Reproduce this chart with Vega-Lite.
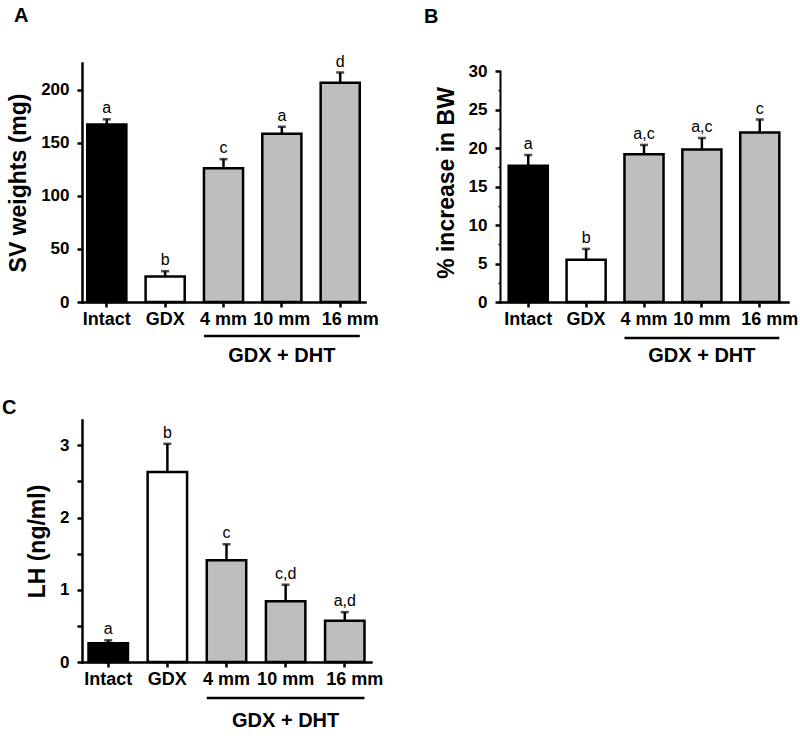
{
  "$schema": "https://vega.github.io/schema/vega-lite/v6.json",
  "background": "white",
  "padding": {"left": 2, "top": 5, "right": 5, "bottom": 5},
  "config": {
    "font": "Liberation Sans",
    "view": {"stroke": null},
    "axis": {
      "domainColor": "black", "domainWidth": 2.5, "tickColor": "black", "tickWidth": 2.5, "tickSize": 5,
      "labelFont": "Liberation Sans", "labelFontWeight": "bold", "labelColor": "black", "labelOverlap": false,
      "titleFont": "Liberation Sans", "titleFontWeight": "bold", "titleColor": "black", "titleFontSize": 23,
      "grid": false
    },
    "axisX": {"labelFontSize": 18, "labelAngle": 0, "labelPadding": 3, "title": null, "domainCap": "square",
              "labelOffset": {"condition": {"test": "datum.value == '16 mm'", "value": 10}, "value": 0}},
    "axisY": {"labelFontSize": 17, "labelPadding": 8, "titlePadding": 10, "domainCap": "square"},
    "title": {"font": "Liberation Sans", "fontSize": 20, "fontWeight": "bold", "color": "black", "anchor": "start", "frame": "group"}
  },
  "datasets": {
    "A": [
      {"group": "Intact", "mean": 167, "upper": 172, "letter": "a"},
      {"group": "GDX", "mean": 24, "upper": 29, "letter": "b"},
      {"group": "4 mm", "mean": 126, "upper": 134.5, "letter": "c"},
      {"group": "10 mm", "mean": 158.5, "upper": 165, "letter": "a"},
      {"group": "16 mm", "mean": 206.5, "upper": 216, "letter": "d"}
    ],
    "B": [
      {"group": "Intact", "mean": 17.7, "upper": 19.1, "letter": "a"},
      {"group": "GDX", "mean": 5.5, "upper": 6.9, "letter": "b"},
      {"group": "4 mm", "mean": 19.2, "upper": 20.4, "letter": "a,c"},
      {"group": "10 mm", "mean": 19.8, "upper": 21.3, "letter": "a,c"},
      {"group": "16 mm", "mean": 22.0, "upper": 23.7, "letter": "c"}
    ],
    "C": [
      {"group": "Intact", "mean": 0.26, "upper": 0.3, "letter": "a"},
      {"group": "GDX", "mean": 2.63, "upper": 3.02, "letter": "b"},
      {"group": "4 mm", "mean": 1.41, "upper": 1.63, "letter": "c"},
      {"group": "10 mm", "mean": 0.84, "upper": 1.07, "letter": "c,d"},
      {"group": "16 mm", "mean": 0.57, "upper": 0.69, "letter": "a,d"}
    ],
    "bracket": [{"from": "4 mm", "to": "16 mm", "label": "GDX + DHT"}]
  },
  "columns": 2,
  "align": "none",
  "spacing": {"row": 31, "column": 41},
  "concat": [
    {
      "width": 283, "height": 239,
      "title": {"text": "A", "dx": -68, "offset": 28},
      "data": {"name": "A"},
      "encoding": {
        "x": {"field": "group", "type": "nominal", "sort": null,
              "scale": {"domain": ["Intact", "GDX", "4 mm", "10 mm", "16 mm"], "paddingInner": 0.33, "paddingOuter": 0.09}}
      },
      "layer": [
        {"mark": {"type": "bar", "stroke": "black", "strokeWidth": 2.5},
         "encoding": {
           "y": {"field": "mean", "type": "quantitative", "scale": {"domain": [0, 225], "nice": false},
                 "axis": {"title": "SV weights (mg)", "labelOverlap": false, "values": [0, 25, 50, 75, 100, 125, 150, 175, 200, 225],
                          "labelExpr": "datum.value % 50 == 0 ? format(datum.value, 'd') : ''"}},
           "fill": {"field": "group", "type": "nominal", "legend": null,
                    "scale": {"domain": ["Intact", "GDX", "4 mm", "10 mm", "16 mm"], "range": ["#000000", "#ffffff", "#bebebe", "#bebebe", "#bebebe"]}}
         }},
        {"mark": {"type": "rule", "strokeWidth": 2.5, "color": "black"},
         "encoding": {"y": {"field": "mean", "type": "quantitative"}, "y2": {"field": "upper"}}},
        {"mark": {"type": "tick", "thickness": 2.5, "size": 8, "color": "black"},
         "encoding": {"y": {"field": "upper", "type": "quantitative"}}},
        {"mark": {"type": "text", "fontSize": 16, "baseline": "alphabetic", "dy": -6, "color": "black"},
         "encoding": {"y": {"field": "upper", "type": "quantitative"}, "text": {"field": "letter"}}},
        {"data": {"name": "bracket"},
         "mark": {"type": "rule", "strokeWidth": 2.5, "color": "black"},
         "encoding": {"x": {"field": "from", "type": "nominal", "bandPosition": 0}, "x2": {"field": "to", "bandPosition": 1}, "y": {"datum": -32}}},
        {"data": {"name": "bracket"},
         "mark": {"type": "text", "fontSize": 20, "fontWeight": "bold", "baseline": "middle", "color": "black"},
         "encoding": {"x": {"datum": "10 mm"}, "y": {"datum": -51}, "text": {"field": "label"}}}
      ]
    },
    {
      "width": 288, "height": 239,
      "title": {"text": "B", "dx": -76, "offset": 35},
      "data": {"name": "B"},
      "encoding": {
        "x": {"field": "group", "type": "nominal", "sort": null,
              "scale": {"domain": ["Intact", "GDX", "4 mm", "10 mm", "16 mm"], "paddingInner": 0.325, "paddingOuter": 0.15}}
      },
      "layer": [
        {"mark": {"type": "bar", "stroke": "black", "strokeWidth": 2.5},
         "encoding": {
           "y": {"field": "mean", "type": "quantitative", "scale": {"domain": [0, 31.04], "nice": false},
                 "axis": {"title": "% increase in BW", "domainWidth": 2, "domainDash": [231, 40], "labelOverlap": false,
                          "values": [0, 2.5, 5, 7.5, 10, 12.5, 15, 17.5, 20, 22.5, 25, 27.5, 30],
                          "labelExpr": "datum.value % 5 == 0 ? format(datum.value, 'd') : ''",
                          "tickSize": {"condition": {"test": "datum.value % 5 == 0", "value": 5}, "value": 2},
                          "tickWidth": {"condition": {"test": "datum.value % 5 == 0", "value": 2.5}, "value": 1.5}}},
           "fill": {"field": "group", "type": "nominal", "legend": null,
                    "scale": {"domain": ["Intact", "GDX", "4 mm", "10 mm", "16 mm"], "range": ["#000000", "#ffffff", "#bebebe", "#bebebe", "#bebebe"]}}
         }},
        {"mark": {"type": "rule", "strokeWidth": 2.5, "color": "black"},
         "encoding": {"y": {"field": "mean", "type": "quantitative",
                 "axis": {"title": "% increase in BW", "domainWidth": 2, "domainDash": [231, 40], "labelOverlap": false,
                          "values": [0, 2.5, 5, 7.5, 10, 12.5, 15, 17.5, 20, 22.5, 25, 27.5, 30],
                          "labelExpr": "datum.value % 5 == 0 ? format(datum.value, 'd') : ''",
                          "tickSize": {"condition": {"test": "datum.value % 5 == 0", "value": 5}, "value": 2},
                          "tickWidth": {"condition": {"test": "datum.value % 5 == 0", "value": 2.5}, "value": 1.5}}}, "y2": {"field": "upper"}}},
        {"mark": {"type": "tick", "thickness": 2.5, "size": 8, "color": "black"},
         "encoding": {"y": {"field": "upper", "type": "quantitative",
                 "axis": {"title": "% increase in BW", "domainWidth": 2, "domainDash": [231, 40], "labelOverlap": false,
                          "values": [0, 2.5, 5, 7.5, 10, 12.5, 15, 17.5, 20, 22.5, 25, 27.5, 30],
                          "labelExpr": "datum.value % 5 == 0 ? format(datum.value, 'd') : ''",
                          "tickSize": {"condition": {"test": "datum.value % 5 == 0", "value": 5}, "value": 2},
                          "tickWidth": {"condition": {"test": "datum.value % 5 == 0", "value": 2.5}, "value": 1.5}}}}},
        {"mark": {"type": "text", "fontSize": 16, "baseline": "alphabetic", "dy": -6, "color": "black"},
         "encoding": {"y": {"field": "upper", "type": "quantitative",
                 "axis": {"title": "% increase in BW", "domainWidth": 2, "domainDash": [231, 40], "labelOverlap": false,
                          "values": [0, 2.5, 5, 7.5, 10, 12.5, 15, 17.5, 20, 22.5, 25, 27.5, 30],
                          "labelExpr": "datum.value % 5 == 0 ? format(datum.value, 'd') : ''",
                          "tickSize": {"condition": {"test": "datum.value % 5 == 0", "value": 5}, "value": 2},
                          "tickWidth": {"condition": {"test": "datum.value % 5 == 0", "value": 2.5}, "value": 1.5}}}, "text": {"field": "letter"}}},
        {"data": {"name": "bracket"},
         "mark": {"type": "rule", "strokeWidth": 2.5, "color": "black"},
         "encoding": {"x": {"field": "from", "type": "nominal", "bandPosition": 0}, "x2": {"field": "to", "bandPosition": 1},
                      "y": {"datum": -4.68, "type": "quantitative",
                 "axis": {"title": "% increase in BW", "domainWidth": 2, "domainDash": [231, 40], "labelOverlap": false,
                          "values": [0, 2.5, 5, 7.5, 10, 12.5, 15, 17.5, 20, 22.5, 25, 27.5, 30],
                          "labelExpr": "datum.value % 5 == 0 ? format(datum.value, 'd') : ''",
                          "tickSize": {"condition": {"test": "datum.value % 5 == 0", "value": 5}, "value": 2},
                          "tickWidth": {"condition": {"test": "datum.value % 5 == 0", "value": 2.5}, "value": 1.5}}}}},
        {"data": {"name": "bracket"},
         "mark": {"type": "text", "fontSize": 20, "fontWeight": "bold", "baseline": "middle", "color": "black"},
         "encoding": {"x": {"datum": "10 mm"},
                      "y": {"datum": -7, "type": "quantitative",
                 "axis": {"title": "% increase in BW", "domainWidth": 2, "domainDash": [231, 40], "labelOverlap": false,
                          "values": [0, 2.5, 5, 7.5, 10, 12.5, 15, 17.5, 20, 22.5, 25, 27.5, 30],
                          "labelExpr": "datum.value % 5 == 0 ? format(datum.value, 'd') : ''",
                          "tickSize": {"condition": {"test": "datum.value % 5 == 0", "value": 5}, "value": 2},
                          "tickWidth": {"condition": {"test": "datum.value % 5 == 0", "value": 2.5}, "value": 1.5}}}, "text": {"field": "label"}}}
      ]
    },
    {
      "width": 289, "height": 242,
      "title": {"text": "C", "dx": -80, "offset": 2},
      "data": {"name": "C"},
      "encoding": {
        "x": {"field": "group", "type": "nominal", "sort": null,
              "scale": {"domain": ["Intact", "GDX", "4 mm", "10 mm", "16 mm"], "paddingInner": 0.333, "paddingOuter": 0.11}}
      },
      "layer": [
        {"mark": {"type": "bar", "stroke": "black", "strokeWidth": 2.5},
         "encoding": {
           "y": {"field": "mean", "type": "quantitative", "scale": {"domain": [0, 3.35], "nice": false},
                 "axis": {"title": "LH (ng/ml)", "labelOverlap": false, "values": [0, 0.5, 1, 1.5, 2, 2.5, 3],
                          "labelExpr": "datum.value % 1 == 0 ? format(datum.value, 'd') : ''"}},
           "fill": {"field": "group", "type": "nominal", "legend": null,
                    "scale": {"domain": ["Intact", "GDX", "4 mm", "10 mm", "16 mm"], "range": ["#000000", "#ffffff", "#bebebe", "#bebebe", "#bebebe"]}}
         }},
        {"mark": {"type": "rule", "strokeWidth": 2.5, "color": "black"},
         "encoding": {"y": {"field": "mean", "type": "quantitative"}, "y2": {"field": "upper"}}},
        {"mark": {"type": "tick", "thickness": 2.5, "size": 8, "color": "black"},
         "encoding": {"y": {"field": "upper", "type": "quantitative"}}},
        {"mark": {"type": "text", "fontSize": 16, "baseline": "alphabetic", "dy": -6, "color": "black"},
         "encoding": {"y": {"field": "upper", "type": "quantitative"}, "text": {"field": "letter"}}},
        {"data": {"name": "bracket"},
         "mark": {"type": "rule", "strokeWidth": 2.5, "color": "black"},
         "encoding": {"x": {"field": "from", "type": "nominal", "bandPosition": 0}, "x2": {"field": "to", "bandPosition": 1}, "y": {"datum": -0.5}}},
        {"data": {"name": "bracket"},
         "mark": {"type": "text", "fontSize": 20, "fontWeight": "bold", "baseline": "middle", "color": "black"},
         "encoding": {"x": {"datum": "10 mm"}, "y": {"datum": -0.81}, "text": {"field": "label"}}}
      ]
    }
  ]
}
